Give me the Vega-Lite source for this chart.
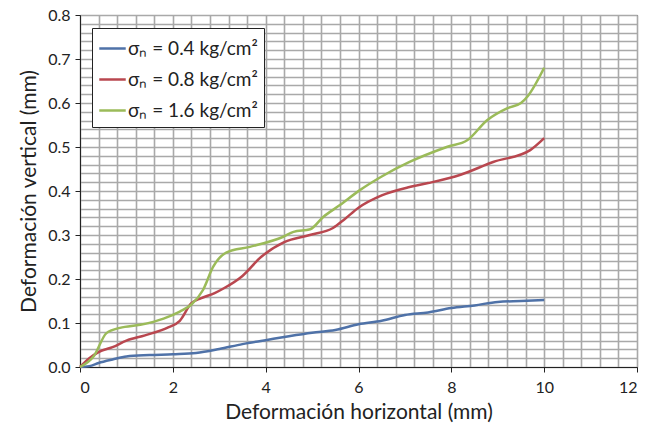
{
  "$schema": "https://vega.github.io/schema/vega-lite/v6.json",
  "width": 557,
  "height": 352,
  "autosize": {"type": "none"},
  "padding": {"left": 80, "top": 15, "right": 10, "bottom": 70},
  "background": "white",
  "config": {
    "view": {"stroke": "#222", "strokeWidth": 1},
    "font": "Lato",
    "axis": {"labelFont": "Lato", "titleFont": "Lato", "labelColor": "#222", "titleColor": "#222"}
  },
  "data": {
    "values": [
      {"serie": "σₙ = 0.4 kg/cm²", "dh": 0, "dv": 0},
      {"serie": "σₙ = 0.4 kg/cm²", "dh": 0.2, "dv": 0.002},
      {"serie": "σₙ = 0.4 kg/cm²", "dh": 0.4, "dv": 0.009},
      {"serie": "σₙ = 0.4 kg/cm²", "dh": 0.7, "dv": 0.017},
      {"serie": "σₙ = 0.4 kg/cm²", "dh": 1.0, "dv": 0.024},
      {"serie": "σₙ = 0.4 kg/cm²", "dh": 1.5, "dv": 0.027},
      {"serie": "σₙ = 0.4 kg/cm²", "dh": 2.0, "dv": 0.029},
      {"serie": "σₙ = 0.4 kg/cm²", "dh": 2.5, "dv": 0.032},
      {"serie": "σₙ = 0.4 kg/cm²", "dh": 3.0, "dv": 0.041},
      {"serie": "σₙ = 0.4 kg/cm²", "dh": 3.5, "dv": 0.052},
      {"serie": "σₙ = 0.4 kg/cm²", "dh": 4.0, "dv": 0.061},
      {"serie": "σₙ = 0.4 kg/cm²", "dh": 4.5, "dv": 0.07},
      {"serie": "σₙ = 0.4 kg/cm²", "dh": 5.0, "dv": 0.078},
      {"serie": "σₙ = 0.4 kg/cm²", "dh": 5.5, "dv": 0.084},
      {"serie": "σₙ = 0.4 kg/cm²", "dh": 6.0, "dv": 0.097},
      {"serie": "σₙ = 0.4 kg/cm²", "dh": 6.5, "dv": 0.105},
      {"serie": "σₙ = 0.4 kg/cm²", "dh": 7.0, "dv": 0.118},
      {"serie": "σₙ = 0.4 kg/cm²", "dh": 7.5, "dv": 0.124},
      {"serie": "σₙ = 0.4 kg/cm²", "dh": 8.0, "dv": 0.134},
      {"serie": "σₙ = 0.4 kg/cm²", "dh": 8.5, "dv": 0.14},
      {"serie": "σₙ = 0.4 kg/cm²", "dh": 9.0, "dv": 0.148},
      {"serie": "σₙ = 0.4 kg/cm²", "dh": 9.5, "dv": 0.15},
      {"serie": "σₙ = 0.4 kg/cm²", "dh": 10.0, "dv": 0.152},

      {"serie": "σₙ = 0.8 kg/cm²", "dh": 0, "dv": 0},
      {"serie": "σₙ = 0.8 kg/cm²", "dh": 0.2, "dv": 0.02},
      {"serie": "σₙ = 0.8 kg/cm²", "dh": 0.4, "dv": 0.034},
      {"serie": "σₙ = 0.8 kg/cm²", "dh": 0.7, "dv": 0.045},
      {"serie": "σₙ = 0.8 kg/cm²", "dh": 1.0, "dv": 0.06},
      {"serie": "σₙ = 0.8 kg/cm²", "dh": 1.4, "dv": 0.072},
      {"serie": "σₙ = 0.8 kg/cm²", "dh": 1.9, "dv": 0.09},
      {"serie": "σₙ = 0.8 kg/cm²", "dh": 2.15, "dv": 0.105},
      {"serie": "σₙ = 0.8 kg/cm²", "dh": 2.4, "dv": 0.145},
      {"serie": "σₙ = 0.8 kg/cm²", "dh": 2.6, "dv": 0.156},
      {"serie": "σₙ = 0.8 kg/cm²", "dh": 2.9, "dv": 0.168},
      {"serie": "σₙ = 0.8 kg/cm²", "dh": 3.1, "dv": 0.179},
      {"serie": "σₙ = 0.8 kg/cm²", "dh": 3.5, "dv": 0.207},
      {"serie": "σₙ = 0.8 kg/cm²", "dh": 3.9, "dv": 0.25},
      {"serie": "σₙ = 0.8 kg/cm²", "dh": 4.4, "dv": 0.284},
      {"serie": "σₙ = 0.8 kg/cm²", "dh": 4.95, "dv": 0.3},
      {"serie": "σₙ = 0.8 kg/cm²", "dh": 5.45, "dv": 0.316},
      {"serie": "σₙ = 0.8 kg/cm²", "dh": 5.7, "dv": 0.336},
      {"serie": "σₙ = 0.8 kg/cm²", "dh": 6.0, "dv": 0.362},
      {"serie": "σₙ = 0.8 kg/cm²", "dh": 6.5, "dv": 0.39},
      {"serie": "σₙ = 0.8 kg/cm²", "dh": 7.1, "dv": 0.409},
      {"serie": "σₙ = 0.8 kg/cm²", "dh": 7.5, "dv": 0.418},
      {"serie": "σₙ = 0.8 kg/cm²", "dh": 8.2, "dv": 0.437},
      {"serie": "σₙ = 0.8 kg/cm²", "dh": 8.9, "dv": 0.466},
      {"serie": "σₙ = 0.8 kg/cm²", "dh": 9.7, "dv": 0.493},
      {"serie": "σₙ = 0.8 kg/cm²", "dh": 10.0, "dv": 0.52},

      {"serie": "σₙ = 1.6 kg/cm²", "dh": 0, "dv": 0},
      {"serie": "σₙ = 1.6 kg/cm²", "dh": 0.3, "dv": 0.025},
      {"serie": "σₙ = 1.6 kg/cm²", "dh": 0.57, "dv": 0.077},
      {"serie": "σₙ = 1.6 kg/cm²", "dh": 0.86, "dv": 0.089},
      {"serie": "σₙ = 1.6 kg/cm²", "dh": 1.3, "dv": 0.096},
      {"serie": "σₙ = 1.6 kg/cm²", "dh": 1.8, "dv": 0.11},
      {"serie": "σₙ = 1.6 kg/cm²", "dh": 2.15, "dv": 0.126},
      {"serie": "σₙ = 1.6 kg/cm²", "dh": 2.4, "dv": 0.142},
      {"serie": "σₙ = 1.6 kg/cm²", "dh": 2.65, "dv": 0.175},
      {"serie": "σₙ = 1.6 kg/cm²", "dh": 2.87, "dv": 0.228},
      {"serie": "σₙ = 1.6 kg/cm²", "dh": 3.15, "dv": 0.26},
      {"serie": "σₙ = 1.6 kg/cm²", "dh": 3.66, "dv": 0.273},
      {"serie": "σₙ = 1.6 kg/cm²", "dh": 4.38, "dv": 0.296},
      {"serie": "σₙ = 1.6 kg/cm²", "dh": 4.6, "dv": 0.307},
      {"serie": "σₙ = 1.6 kg/cm²", "dh": 4.96, "dv": 0.313},
      {"serie": "σₙ = 1.6 kg/cm²", "dh": 5.24, "dv": 0.341},
      {"serie": "σₙ = 1.6 kg/cm²", "dh": 5.6, "dv": 0.368},
      {"serie": "σₙ = 1.6 kg/cm²", "dh": 6.03, "dv": 0.402},
      {"serie": "σₙ = 1.6 kg/cm²", "dh": 6.5, "dv": 0.433},
      {"serie": "σₙ = 1.6 kg/cm²", "dh": 7.1, "dv": 0.466},
      {"serie": "σₙ = 1.6 kg/cm²", "dh": 7.9, "dv": 0.5},
      {"serie": "σₙ = 1.6 kg/cm²", "dh": 8.35, "dv": 0.516},
      {"serie": "σₙ = 1.6 kg/cm²", "dh": 8.77, "dv": 0.561},
      {"serie": "σₙ = 1.6 kg/cm²", "dh": 9.2, "dv": 0.588},
      {"serie": "σₙ = 1.6 kg/cm²", "dh": 9.5, "dv": 0.6},
      {"serie": "σₙ = 1.6 kg/cm²", "dh": 9.65, "dv": 0.616},
      {"serie": "σₙ = 1.6 kg/cm²", "dh": 10.0, "dv": 0.68}
    ]
  },
  "resolve": {"axis": {"x": "independent", "y": "independent"}},
  "layer": [
    {
      "description": "Fine grid: every 0.4 mm horizontally and 0.02 mm vertically",
      "mark": {"type": "line", "opacity": 0},
      "encoding": {
        "x": {
          "field": "dh", "type": "quantitative",
          "scale": {"domain": [0, 12], "nice": false},
          "axis": {
            "orient": "top", "labels": false, "ticks": false, "domain": false, "title": null,
            "grid": true, "gridColor": "#a9a9a9", "gridWidth": 1.6, "gridOpacity": 1,
            "values": [0, 0.4, 0.8, 1.2, 1.6, 2, 2.4, 2.8, 3.2, 3.6, 4, 4.4, 4.8, 5.2, 5.6, 6, 6.4, 6.8, 7.2, 7.6, 8, 8.4, 8.8, 9.2, 9.6, 10, 10.4, 10.8, 11.2, 11.6, 12]
          }
        },
        "y": {
          "field": "dv", "type": "quantitative",
          "scale": {"domain": [0, 0.8], "nice": false},
          "axis": {
            "orient": "right", "labels": false, "ticks": false, "domain": false, "title": null,
            "grid": true, "gridColor": "#a9a9a9", "gridWidth": 1.6, "gridOpacity": 1,
            "values": [0, 0.02, 0.04, 0.06, 0.08, 0.1, 0.12, 0.14, 0.16, 0.18, 0.2, 0.22, 0.24, 0.26, 0.28, 0.3, 0.32, 0.34, 0.36, 0.38, 0.4, 0.42, 0.44, 0.46, 0.48, 0.5, 0.52, 0.54, 0.56, 0.58, 0.6, 0.62, 0.64, 0.66, 0.68, 0.7, 0.72, 0.74, 0.76, 0.78, 0.8]
          }
        },
        "detail": {"field": "serie"}
      }
    },
    {
      "mark": {"type": "line", "interpolate": "monotone", "strokeWidth": 2.5},
      "encoding": {
        "x": {
          "field": "dh", "type": "quantitative",
          "scale": {"domain": [0, 12], "nice": false},
          "axis": {
            "orient": "bottom", "grid": false, "values": [0, 2, 4, 6, 8, 10, 12],
            "format": "d", "labelFontSize": 16, "labelPadding": 7,
            "tickSize": 5, "tickColor": "#222", "domainColor": "#222",
            "title": "Deformación horizontal (mm)", "titleFontSize": 21, "titleFontWeight": "normal", "titlePadding": 6
          }
        },
        "y": {
          "field": "dv", "type": "quantitative",
          "scale": {"domain": [0, 0.8], "nice": false},
          "axis": {
            "orient": "left", "grid": false, "values": [0, 0.1, 0.2, 0.3, 0.4, 0.5, 0.6, 0.7, 0.8],
            "format": ".1f", "labelFontSize": 16, "labelPadding": 5,
            "tickSize": 5, "tickColor": "#222", "domainColor": "#222",
            "title": "Deformación vertical (mm)", "titleFontSize": 21, "titleFontWeight": "normal", "titlePadding": 8
          }
        },
        "color": {
          "field": "serie", "type": "nominal",
          "scale": {
            "domain": ["σₙ = 0.4 kg/cm²", "σₙ = 0.8 kg/cm²", "σₙ = 1.6 kg/cm²"],
            "range": ["#4f72a8", "#b9474f", "#9bbb59"]
          },
          "legend": {
            "orient": "none", "legendX": 12, "legendY": 13, "title": null,
            "fillColor": "white", "strokeColor": "#222", "padding": 6,
            "symbolType": "stroke", "symbolSize": 700, "symbolStrokeWidth": 2.5,
            "labelFontSize": 19, "labelColor": "#222", "labelFont": "Lato",
            "rowPadding": 6, "labelOffset": 1
          }
        }
      }
    }
  ]
}
